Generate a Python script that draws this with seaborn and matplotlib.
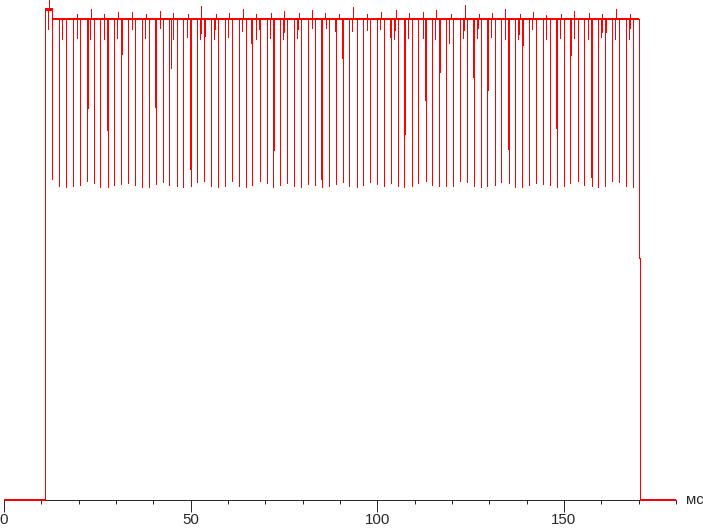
# Oscillogram of the brightness trace: one red line over a bare ms axis

import pandas as pd
import matplotlib
matplotlib.use("Agg")
import matplotlib.pyplot as plt
from matplotlib.ticker import MultipleLocator
import seaborn as sns

# Times in ms, levels in % of the steady on-level
on_start, on_end, fall_end = 11.07, 170.17, 170.44
overshoot_end, overshoot_level = 12.85, 102.1
fall_step_level = 50.3
axis_end = 180

# Deep periodic dips (time, bottom level)
dip_times = [12.9, 14.8, 16.7, 18.6, 20.4, 22.1, 24.2, 25.8, 27.9, 29.5, 31.4, 33.3, 35.2, 37.0, 38.9,
             40.8, 42.7, 44.3, 46.4, 48.0, 50.2, 51.8, 53.7, 55.5, 57.4, 59.3, 61.2, 63.0, 64.9, 66.5,
             68.7, 70.4, 72.1, 74.0, 75.9, 77.8, 79.6, 81.5, 83.4, 85.3, 87.1, 89.0, 90.9, 92.5, 94.5,
             96.2, 98.1, 100.0, 101.9, 103.7, 105.6, 107.2, 109.4, 111.0, 113.0, 114.7, 116.6, 118.5,
             120.3, 122.2, 124.1, 126.0, 127.8, 129.5, 131.6, 133.2, 135.4, 137.0, 138.8, 140.7, 142.6,
             144.5, 146.3, 148.2, 150.1, 151.7, 153.8, 155.4, 157.4, 159.2, 161.1, 162.9, 164.8, 166.7,
             168.6]
dip_levels = [66.7, 65.3, 65.1, 65.3, 65.5, 66.3, 65.9, 65.1, 65.1, 65.5, 65.7, 65.9, 65.5, 65.1, 65.1,
              65.7, 66.1, 65.5, 65.3, 65.1, 65.3, 66.1, 66.3, 65.3, 65.1, 65.3, 66.3, 65.3, 65.1, 65.5,
              66.3, 65.9, 65.1, 65.5, 65.9, 65.3, 65.1, 65.7, 65.5, 65.1, 65.3, 65.7, 66.1, 65.3, 65.1,
              65.5, 66.1, 65.7, 65.3, 65.9, 65.3, 65.1, 65.3, 65.9, 66.3, 65.5, 65.3, 65.3, 65.3, 66.3,
              66.1, 65.3, 65.1, 65.3, 65.5, 66.1, 65.9, 65.1, 65.1, 65.5, 65.9, 65.7, 65.5, 65.1, 65.3,
              65.9, 66.3, 65.5, 65.3, 65.1, 65.3, 66.3, 66.1, 65.3, 65.1]

# Smaller irregular dips
small_dip_times = [11.9, 15.6, 18.4, 19.5, 22.4, 23.1, 26.8, 27.7, 30.4, 31.6, 34.3, 37.9, 40.5, 41.8,
                   44.6, 45.4, 49.1, 49.9, 52.6, 52.9, 53.9, 56.3, 56.6, 60.1, 62.9, 63.8, 66.2, 67.6,
                   68.4, 71.3, 72.4, 74.8, 75.1, 78.6, 78.8, 82.6, 85.0, 86.3, 88.7, 90.6, 93.3, 94.6,
                   97.2, 100.8, 103.5, 104.5, 104.8, 107.4, 108.3, 112.1, 112.9, 115.5, 116.8, 119.3,
                   123.0, 123.3, 125.7, 126.8, 127.0, 129.7, 130.5, 134.3, 135.1, 137.8, 138.0, 139.1,
                   141.5, 145.3, 147.9, 149.0, 152.0, 152.8, 156.5, 157.2, 160.0, 160.3, 161.3, 163.7,
                   167.5, 167.8]
small_dip_levels = [97.9, 95.8, 91.9, 96.0, 81.5, 95.8, 95.8, 76.9, 96.0, 92.7, 97.9, 96.0, 81.7, 98.1,
                    89.8, 95.8, 96.3, 68.8, 95.8, 97.1, 96.5, 95.8, 97.9, 96.3, 71.9, 97.5, 95.0, 95.8,
                    97.9, 96.0, 72.8, 95.8, 97.3, 96.0, 97.9, 98.1, 66.7, 98.1, 97.5, 91.9, 97.5, 81.5,
                    97.7, 97.9, 96.3, 95.8, 97.7, 76.1, 96.0, 96.0, 83.2, 95.8, 89.0, 95.0, 96.0, 97.7,
                    87.9, 96.0, 98.1, 85.2, 96.3, 95.8, 73.0, 95.8, 96.9, 94.6, 97.9, 95.8, 77.3, 96.0,
                    92.5, 96.0, 95.8, 67.2, 96.3, 97.3, 97.3, 95.8, 95.8, 98.1]

# Short upward spikes
spike_times = [12.1, 19.6, 23.2, 26.9, 30.6, 34.4, 38.1, 41.9, 45.3, 49.2, 52.8, 56.7, 60.4, 63.9,
               67.6, 71.4, 75.0, 78.9, 82.5, 86.1, 89.8, 93.6, 97.3, 101.1, 104.9, 108.4, 112.1, 115.8,
               119.6, 123.4, 127.1, 130.8, 134.3, 138.1, 141.8, 145.3, 149.3, 152.8, 156.6, 160.2,
               164.0, 167.8]
spike_levels = [104.0, 101.0, 102.1, 101.0, 101.5, 101.5, 101.0, 101.7, 101.2, 101.0, 102.7, 101.0,
                101.2, 102.1, 101.0, 101.2, 101.7, 101.2, 101.9, 101.2, 101.0, 102.5, 101.0, 101.5,
                101.9, 101.2, 101.5, 101.9, 101.0, 102.9, 101.0, 101.2, 102.1, 101.0, 101.5, 100.8,
                101.0, 101.7, 101.2, 101.0, 102.1, 101.0]

# Put all the short events in time order
events = pd.DataFrame({
    "t": dip_times + small_dip_times + spike_times,
    "v": dip_levels + small_dip_levels + spike_levels,
}).sort_values("t")

# Build the trace path: flat level with vertical excursions at each event
xs = [0, on_start, on_start]
ys = [0, 0, overshoot_level]
for t, v in zip(events["t"], events["v"]):
    level = overshoot_level if t < overshoot_end else 100
    if t >= overshoot_end and ys[-1] != 100:
        xs.append(overshoot_end)
        ys.append(overshoot_level)
        xs.append(overshoot_end)
        ys.append(100)
    xs += [t, t, t]
    ys += [level, v, level]
xs += [on_end, on_end, fall_end, fall_end, axis_end]
ys += [100, fall_step_level, fall_step_level, 0, 0]
trace = pd.DataFrame({"t": xs, "v": ys})

sns.set_style("white")
plt.rcParams["font.family"] = ["Liberation Sans", "DejaVu Sans"]
plt.rcParams["lines.antialiased"] = False
plt.rcParams["lines.solid_capstyle"] = "butt"

fig = plt.figure(figsize=(7.03, 5.28), dpi=100)
ax = fig.add_axes([4 / 703, 28 / 528, 672 / 703, 500 / 528])

red = "#ff0000"
sns.lineplot(data=trace, x="t", y="v", sort=False, estimator=None, color=red,
             linewidth=0.5, ax=ax, clip_on=False)

# the flat parts of the trace look thicker (ripple / noise) in the original
flat = trace[trace["v"] == 0]
sns.lineplot(data=flat.iloc[:2], x="t", y="v", sort=False, estimator=None, color=red,
             linewidth=1.3, ax=ax, clip_on=False)
sns.lineplot(data=flat.iloc[-2:], x="t", y="v", sort=False, estimator=None, color=red,
             linewidth=1.3, ax=ax, clip_on=False)
plateau = pd.DataFrame({"t": [overshoot_end, on_end], "v": [100, 100]})
sns.lineplot(data=plateau, x="t", y="v", sort=False, estimator=None, color=red,
             linewidth=1.3, ax=ax)
overshoot = pd.DataFrame({"t": [on_start, overshoot_end], "v": [overshoot_level, overshoot_level]})
sns.lineplot(data=overshoot, x="t", y="v", sort=False, estimator=None, color=red,
             linewidth=1.8, ax=ax)

ax.set_xlim(0, axis_end)
ax.set_ylim(0, 104)
for side in ["left", "top", "right"]:
    ax.spines[side].set_visible(False)
ax.spines["bottom"].set_color("black")
ax.spines["bottom"].set_linewidth(0.6)
ax.spines["bottom"].set_zorder(1)
ax.set_yticks([])
ax.xaxis.set_major_locator(MultipleLocator(50))
ax.xaxis.set_minor_locator(MultipleLocator(10))
ax.tick_params(axis="x", which="major", direction="out", length=8.6, width=0.6,
               color="black", labelsize=10.8, pad=0.5, bottom=True)
ax.tick_params(axis="x", which="minor", direction="out", length=2.9, width=0.6,
               color="black", bottom=True)
ax.set_xlabel("")
ax.set_ylabel("")
ax.annotate("мс", xy=(axis_end, 0), xytext=(7.5, 0), textcoords="offset points",
            ha="left", va="center", fontsize=10.8, annotation_clip=False)

fig.savefig("out.png", dpi=100)
